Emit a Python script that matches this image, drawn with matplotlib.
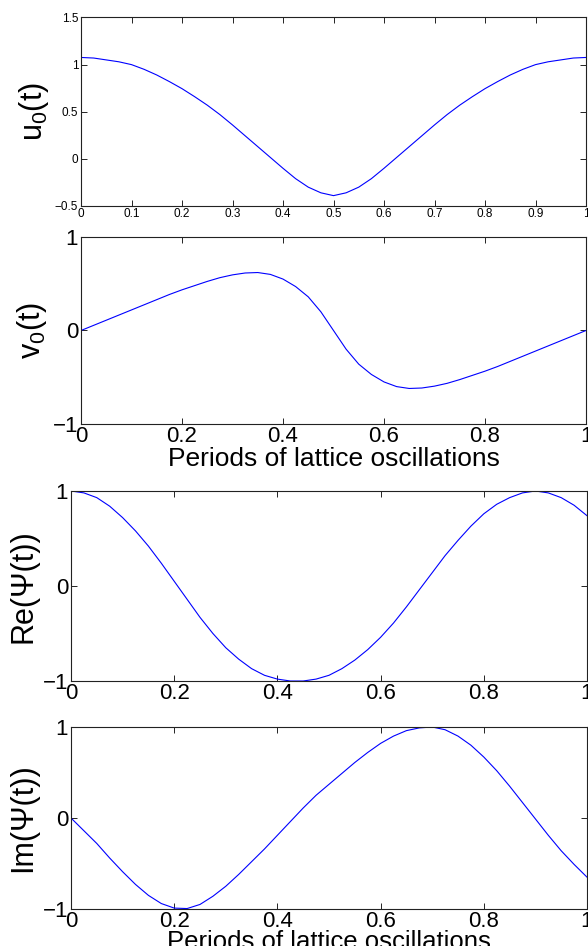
import numpy as np
import matplotlib
matplotlib.use("Agg")
import matplotlib.pyplot as plt

plt.rcParams['font.family'] = ['Liberation Sans', 'DejaVu Sans']
plt.rcParams['mathtext.fontset'] = 'custom'
plt.rcParams['mathtext.rm'] = 'Liberation Sans'
plt.rcParams['mathtext.it'] = 'Liberation Sans'

t = [0.0, 0.025, 0.05, 0.075, 0.1, 0.125, 0.15, 0.175, 0.2, 0.225,
     0.25, 0.275, 0.3, 0.325, 0.35, 0.375, 0.4, 0.425, 0.45, 0.475,
     0.5, 0.525, 0.55, 0.575, 0.6, 0.625, 0.65, 0.675, 0.7, 0.725,
     0.75, 0.775, 0.8, 0.825, 0.85, 0.875, 0.9, 0.925, 0.95, 0.975, 1.0]

u0 = [1.076, 1.07, 1.05, 1.03, 1.0, 0.95, 0.89, 0.82, 0.745, 0.66,
      0.57, 0.47, 0.36, 0.245, 0.13, 0.015, -0.10, -0.21, -0.30, -0.36,
      -0.39, -0.36, -0.30, -0.21, -0.10, 0.015, 0.13, 0.245, 0.36, 0.47,
      0.57, 0.66, 0.745, 0.82, 0.89, 0.95, 1.0, 1.03, 1.05, 1.07, 1.076]

v0 = [0.0, 0.055, 0.11, 0.165, 0.22, 0.275, 0.33, 0.385, 0.435, 0.48,
      0.525, 0.565, 0.595, 0.615, 0.62, 0.60, 0.55, 0.47, 0.36, 0.20,
      0.0, -0.20, -0.36, -0.47, -0.55, -0.60, -0.62, -0.615, -0.595, -0.565,
      -0.525, -0.48, -0.435, -0.385, -0.33, -0.275, -0.22, -0.165, -0.11, -0.055, 0.0]

re_psi = [1.0, 0.98, 0.93, 0.84, 0.72, 0.58, 0.42, 0.24, 0.05, -0.14,
          -0.33, -0.50, -0.65, -0.77, -0.87, -0.94, -0.98, -1.0, -1.0, -0.98,
          -0.94, -0.87, -0.78, -0.67, -0.54, -0.39, -0.22, -0.04, 0.14, 0.32,
          0.48, 0.63, 0.76, 0.86, 0.93, 0.98, 1.0, 0.98, 0.93, 0.85, 0.74]

im_psi = [0.0, -0.14, -0.28, -0.44, -0.59, -0.73, -0.85, -0.94, -0.99, -0.995,
          -0.95, -0.86, -0.75, -0.62, -0.48, -0.34, -0.19, -0.04, 0.11, 0.25,
          0.37, 0.49, 0.61, 0.72, 0.82, 0.90, 0.96, 0.99, 1.0, 0.97,
          0.90, 0.80, 0.67, 0.52, 0.35, 0.17, -0.01, -0.19, -0.36, -0.51, -0.65]

xticks_fine = [0, 0.1, 0.2, 0.3, 0.4, 0.5, 0.6, 0.7, 0.8, 0.9, 1.0]
xticklabels_fine = ['0', '0.1', '0.2', '0.3', '0.4', '0.5', '0.6', '0.7', '0.8', '0.9', '1']
xticks_coarse = [0, 0.2, 0.4, 0.6, 0.8, 1.0]
xticklabels_coarse = ['0', '0.2', '0.4', '0.6', '0.8', '1']
yticks_u = [-0.5, 0, 0.5, 1, 1.5]
yticklabels_u = ['\u22120.5', '0', '0.5', '1', '1.5']
yticks_pm1 = [-1, 0, 1]
yticklabels_pm1 = ['\u22121', '0', '1']

xlabel_text = 'Periods of lattice oscillations'

W, H = 588, 946
fig = plt.figure(figsize=(W / 100, H / 100), dpi=100)

def box(l, top, r, bot):
    return [l / W, (H - bot) / H, (r - l) / W, (bot - top) / H]

panels = [
    dict(rect=box(81, 17.5, 586, 206), y=u0, ylim=(-0.5, 1.5), yt=yticks_u, ytl=yticklabels_u,
         xt=xticks_fine, xtl=xticklabels_fine, ylabel='u$_0$(t)', xlabel=None, tfs=8.5, lfs=22, xlp=0, xfs=19),
    dict(rect=box(81, 237, 586, 424), y=v0, ylim=(-1, 1), yt=yticks_pm1, ytl=yticklabels_pm1,
         xt=xticks_coarse, xtl=xticklabels_coarse, ylabel='v$_0$(t)', xlabel=xlabel_text, tfs=16, lfs=22, xlp=0, xfs=19),
    dict(rect=box(71, 491, 587, 681), y=re_psi, ylim=(-1, 1), yt=yticks_pm1, ytl=yticklabels_pm1,
         xt=xticks_coarse, xtl=xticklabels_coarse, ylabel='Re(\u03a8(t))', xlabel=None, tfs=16, lfs=22, xlp=0, xfs=19),
    dict(rect=box(71, 727, 587, 909), y=im_psi, ylim=(-1, 1), yt=yticks_pm1, ytl=yticklabels_pm1,
         xt=xticks_coarse, xtl=xticklabels_coarse, ylabel='Im(\u03a8(t))', xlabel=xlabel_text, tfs=16, lfs=22, xlp=-1.5, xfs=18.5),
]

for p in panels:
    ax = fig.add_axes(p['rect'])
    ax.plot(t, p['y'], color='#0000ff', lw=0.8)
    ax.set_xlim(0, 1)
    ax.set_ylim(*p['ylim'])
    ax.set_xticks(p['xt'])
    ax.set_xticklabels(p['xtl'])
    ax.set_yticks(p['yt'])
    ax.set_yticklabels(p['ytl'])
    ax.tick_params(direction='in', top=True, right=True, length=4, width=0.6,
                   labelsize=p['tfs'], pad=2)
    ax.tick_params(axis='x', pad=1.5)
    for s in ax.spines.values():
        s.set_linewidth(0.8)
        s.set_color('#222222')
    ax.set_ylabel(p['ylabel'], fontsize=p['lfs'], labelpad=3)
    if p['xlabel']:
        ax.set_xlabel(p['xlabel'], fontsize=p['xfs'], labelpad=p['xlp'])

fig.savefig('out.png', dpi=100)
